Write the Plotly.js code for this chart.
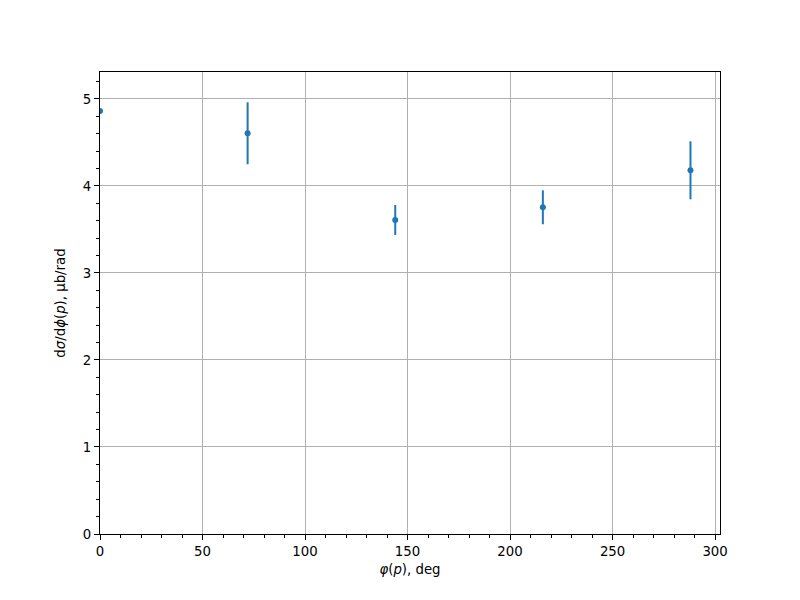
<!DOCTYPE html>
<html>
<head>
<meta charset="utf-8">
<script src="https://cdn.plot.ly/plotly-3.0.1.min.js"></script>
<style>body{margin:0;padding:0;background:#fff;}#chart{width:800px;height:600px;}</style>
</head>
<body>
<div id="chart"></div>
<script>
const phiDeg = [0, 72, 144, 216, 288];
const dsigma = [4.862, 4.606, 3.609, 3.755, 4.180];
const dsigmaErr = [0, 0.356, 0.172, 0.195, 0.333];

const trace = {
  x: phiDeg,
  y: dsigma,
  type: 'scatter',
  mode: 'markers',
  marker: {color: '#1f77b4', size: 6},
  error_y: {type: 'data', array: dsigmaErr, visible: true, color: '#1f77b4', thickness: 2, width: 0},
  cliponaxis: true,
  showlegend: false
};

const font = {family: 'DejaVu Sans, sans-serif', size: 13.3, color: '#000'};

const layout = {
  width: 800, height: 600,
  paper_bgcolor: '#fff', plot_bgcolor: '#fff',
  margin: {l: 100, r: 80, t: 72, b: 66},
  font: font,
  xaxis: {
    range: [0, 302.4],
    tickvals: [0, 50, 100, 150, 200, 250, 300],
    ticks: 'outside', ticklen: 5, tickwidth: 1, tickcolor: '#000',
    showline: true, linecolor: '#000', linewidth: 1, mirror: true,
    showgrid: true, gridcolor: '#b0b0b0', gridwidth: 1,
    zeroline: false,
    minor: {dtick: 10, tick0: 0, ticks: 'outside', ticklen: 3, tickcolor: '#000', showgrid: false},
    title: {text: '<i>φ</i>(<i>p</i>), deg', font: font, standoff: 6},
    tickfont: font
  },
  yaxis: {
    range: [0, 5.31],
    tickvals: [0, 1, 2, 3, 4, 5],
    ticks: 'outside', ticklen: 5, tickwidth: 1, tickcolor: '#000',
    showline: true, linecolor: '#000', linewidth: 1, mirror: true,
    showgrid: true, gridcolor: '#b0b0b0', gridwidth: 1,
    zeroline: false,
    minor: {dtick: 0.2, tick0: 0, ticks: 'outside', ticklen: 3, tickcolor: '#000', showgrid: false},
    title: {text: 'd<i>σ</i>/d<i>ϕ</i>(<i>p</i>), μb/rad', font: font, standoff: 14},
    tickfont: font
  }
};

Plotly.newPlot('chart', [trace], layout, {displayModeBar: false, staticPlot: true});
</script>
</body>
</html>
